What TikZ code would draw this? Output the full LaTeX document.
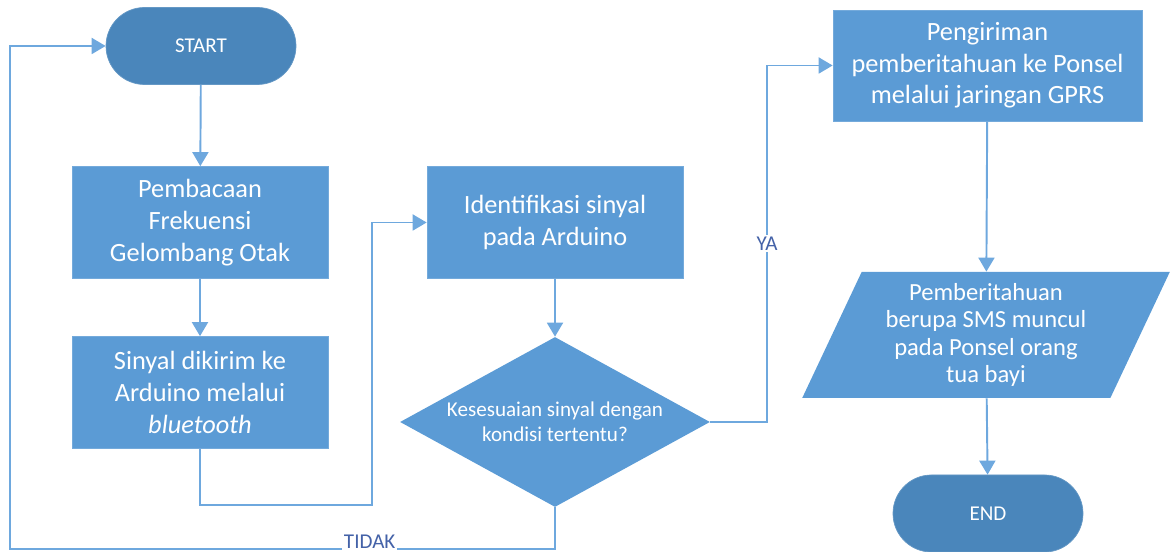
\documentclass[tikz,border=0pt]{standalone}
\usepackage{fontspec}
\setmainfont{Carlito}
\usepackage{xcolor}
\usepackage{tikz}
\usetikzlibrary{shapes.geometric, arrows.meta, positioning}

\definecolor{boxblue}{RGB}{91,155,213}
\definecolor{termblue}{RGB}{74,134,187}
\definecolor{lineblue}{RGB}{110,168,222}
\definecolor{lblblue}{RGB}{68,98,168}

\begin{document}
\begin{tikzpicture}[
    every node/.style={align=center, text=white},
    process/.style={rectangle, draw=boxblue!85!white, fill=boxblue,
                    minimum width=5.12cm, minimum height=2.24cm,
                    font=\fontsize{15}{18}\selectfont},
    terminal/.style={rectangle, rounded corners=0.77cm, draw=termblue!85!white, fill=termblue,
                     minimum width=3.8cm, minimum height=1.54cm,
                     font=\fontsize{12}{14}\selectfont},
    decision/.style={diamond, fill=boxblue, shape aspect=1.82, inner sep=0pt,
                     minimum width=6.2cm, minimum height=3.4cm,
                     font=\fontsize{12}{14}\selectfont},
    io/.style={trapezium, trapezium left angle=65, trapezium right angle=115,
               trapezium stretches=true, fill=boxblue, inner sep=0pt,
               minimum width=7.36cm, minimum height=2.52cm,
               font=\fontsize{14}{15.5}\selectfont},
    arr/.style={-{Triangle[length=2.8mm, width=3.2mm]}, line width=1.1pt, draw=lineblue},
    lbl/.style={fill=white, text=lblblue, inner sep=1pt, font=\fontsize{12}{14}\selectfont}
]
\useasboundingbox (0,0) rectangle (23.4,-11.04);

% --- left column ---
\node[terminal] (start) at (4.02,-0.92) {START};
\node[process]  (read)  at (4.00,-4.45) {Pembacaan\\Frekuensi\\Gelombang Otak};
\node[process]  (send)  at (4.00,-7.85) {Sinyal dikirim ke\\Arduino melalui\\\textit{bluetooth}};

% --- middle column ---
\node[process]  (identify) at (11.10,-4.45) {Identifikasi sinyal\\pada Arduino};
\node[decision] (check)    at (11.10,-8.44) {Kesesuaian sinyal dengan\\kondisi tertentu?};

% --- right column ---
\node[process, minimum width=6.18cm, minimum height=2.22cm] (notify) at (19.75,-1.31)
  {Pengiriman\\pemberitahuan ke Ponsel\\melalui jaringan GPRS};
\node[io]       (sms) at (19.72,-6.70) {Pemberitahuan\\berupa SMS muncul\\pada Ponsel orang\\tua bayi};
\node[terminal] (end) at (19.76,-10.27) {END};

% bend points
\coordinate (bendSend) at (7.44,-10.10);
\coordinate (bendYa)   at (15.34,-8.44);
\coordinate (bendNo)   at (0.20,-10.98);

% --- connectors ---
\draw[arr] (start) -- (read);
\draw[arr] (read) -- (send);
\draw[arr] (send.south) |- (bendSend) |- (identify.west);
\draw[arr] (identify) -- (check);
\draw[arr] (check.east) -- (bendYa) |- node[lbl, pos=0.25] {YA} (notify.west);
\draw[arr] (check.south) |- node[lbl, pos=0.67, yshift=4pt] {TIDAK} (bendNo) |- (start.west);
\draw[arr] (notify) -- (sms);
\draw[arr] (sms) -- (end);

\end{tikzpicture}
\end{document}
